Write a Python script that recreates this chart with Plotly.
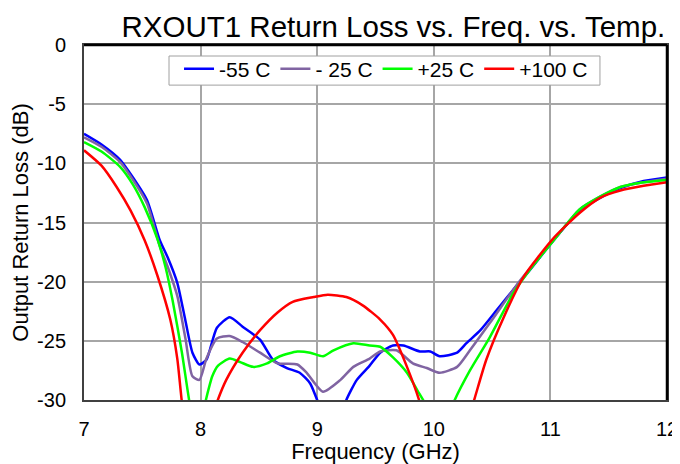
import plotly.graph_objects as go

f_m55 = [7.0, 7.15, 7.31, 7.42, 7.54, 7.65, 7.72, 7.80, 7.87, 7.93, 7.99, 8.05, 8.14, 8.25, 8.36, 8.51, 8.62, 8.74, 8.85, 8.94, 9.0, 9.07, 9.15, 9.22, 9.25, 9.34, 9.45, 9.54, 9.65, 9.74, 9.88, 9.97, 10.05, 10.2, 10.28, 10.40, 10.54, 10.68, 10.80, 11.02, 11.25, 11.43, 11.6, 11.8, 12.0]
rl_m55 = [-7.5, -8.4, -9.7, -11.2, -13.1, -16.5, -18.0, -20.1, -23.3, -26.0, -27.0, -26.6, -23.9, -23.0, -23.8, -24.9, -26.6, -27.3, -27.7, -28.6, -30.0, -31.5, -32.0, -31.0, -30.0, -28.3, -27.1, -26.0, -25.4, -25.4, -25.9, -25.9, -26.3, -26.0, -25.2, -24.1, -22.4, -20.7, -19.3, -16.6, -14.0, -12.9, -12.1, -11.5, -11.2]

f_m25 = [7.0, 7.15, 7.31, 7.42, 7.54, 7.65, 7.72, 7.80, 7.87, 7.93, 7.99, 8.05, 8.14, 8.25, 8.36, 8.51, 8.66, 8.83, 8.91, 9.05, 9.20, 9.31, 9.45, 9.54, 9.68, 9.82, 9.94, 10.05, 10.2, 10.31, 10.48, 10.74, 10.9, 11.02, 11.25, 11.43, 11.6, 11.8, 12.0]
rl_m25 = [-7.8, -8.6, -9.9, -11.4, -13.4, -17.0, -18.8, -21.2, -24.8, -28.0, -28.3, -26.5, -24.8, -24.6, -25.1, -26.0, -26.9, -27.0, -27.7, -29.3, -28.3, -27.2, -26.5, -25.9, -25.8, -26.9, -27.3, -27.7, -27.2, -25.8, -23.5, -19.9, -18.0, -16.6, -13.9, -12.8, -12.0, -11.6, -11.3]

f_p25 = [7.0, 7.15, 7.31, 7.42, 7.52, 7.63, 7.70, 7.76, 7.84, 7.91, 7.97, 8.04, 8.10, 8.15, 8.25, 8.34, 8.45, 8.57, 8.68, 8.83, 8.94, 9.05, 9.14, 9.31, 9.45, 9.54, 9.65, 9.77, 9.86, 9.92, 10.0, 10.1, 10.17, 10.31, 10.48, 10.68, 10.8, 11.02, 11.25, 11.43, 11.6, 11.8, 12.0]
rl_p25 = [-8.2, -9.0, -10.3, -11.8, -13.7, -16.4, -18.8, -21.6, -26.0, -30.5, -33.0, -30.2, -28.0, -27.1, -26.5, -26.8, -27.2, -26.9, -26.3, -25.9, -26.0, -26.3, -25.8, -25.2, -25.4, -25.5, -26.4, -27.7, -29.2, -30.2, -32.0, -32.0, -30.2, -27.5, -24.7, -21.0, -19.3, -16.6, -13.9, -12.8, -12.0, -11.6, -11.4]

f_p100 = [7.0, 7.15, 7.28, 7.40, 7.52, 7.63, 7.74, 7.80, 7.84, 7.90, 8.05, 8.14, 8.22, 8.36, 8.51, 8.66, 8.79, 8.97, 9.09, 9.25, 9.39, 9.54, 9.65, 9.77, 9.88, 9.95, 10.25, 10.34, 10.45, 10.6, 10.77, 11.02, 11.25, 11.43, 11.6, 11.8, 12.0]
rl_p100 = [-8.9, -10.2, -12.0, -14.0, -16.5, -19.5, -23.2, -26.5, -30.2, -34.0, -33.0, -30.2, -28.3, -26.0, -24.1, -22.6, -21.7, -21.3, -21.1, -21.3, -22.0, -23.2, -24.5, -27.2, -30.2, -33.0, -33.0, -30.2, -26.6, -23.0, -19.6, -16.4, -14.2, -12.9, -12.3, -11.9, -11.6]

series_names = ["-55 C", "- 25 C", "+25 C", "+100 C"]
series_colors = ["#0000FF", "#8064A2", "#00FF00", "#FF0000"]
xs = [f_m55, f_m25, f_p25, f_p100]
ys = [rl_m55, rl_m25, rl_p25, rl_p100]

x_ticks = [7, 8, 9, 10, 11, 12]
y_ticks = [0, -5, -10, -15, -20, -25, -30]

fig = go.Figure()
for name, color, x, y in zip(series_names, series_colors, xs, ys):
    fig.add_trace(go.Scatter(x=x, y=y, mode="lines", name=name,
                             line=dict(color=color, width=2.5, shape="spline", smoothing=0.6)))

font_family = "Liberation Sans, Arial, sans-serif"
# page body has an 8px default margin; figure sized to fill the 680x464 window
fig.update_layout(
    width=672, height=456,
    margin=dict(l=76, r=13, t=37, b=64, autoexpand=False),
    paper_bgcolor="white", plot_bgcolor="white",
    font=dict(family=font_family, size=20, color="black"),
    title=dict(text="RXOUT1 Return Loss vs. Freq. vs. Temp.", xref="paper", x=0.997, xanchor="right",
               yref="container", y=0.958, yanchor="middle", font=dict(size=29.5, color="black")),
    legend=dict(orientation="h", x=0.163, y=0.99, xanchor="left", yanchor="top",
                bgcolor="rgba(0,0,0,0)", borderwidth=0,
                font=dict(size=21), itemwidth=30, tracegroupgap=0),
    showlegend=True,
)
fig.update_xaxes(range=[7, 12], tickvals=x_ticks, ticktext=[str(v) for v in x_ticks],
                 showgrid=True, gridcolor="#a6a6a6", gridwidth=1.5,
                 showline=True, linecolor="#404040", linewidth=2, mirror=True,
                 ticks="", ticklabelstandoff=10, tickfont=dict(size=20),
                 title=dict(text="Frequency (GHz)", font=dict(size=22), standoff=4),
                 zeroline=False, automargin=False)
fig.update_yaxes(range=[-30, 0], tickvals=y_ticks, ticktext=[str(v) for v in y_ticks],
                 showgrid=True, gridcolor="#a6a6a6", gridwidth=1.5,
                 showline=True, linecolor="#404040", linewidth=2, mirror=True,
                 ticks="", ticklabelstandoff=12, tickfont=dict(size=20),
                 title=dict(text="Output Return Loss (dB)", font=dict(size=22), standoff=6),
                 zeroline=False, automargin=False)
fig.add_shape(type="line", xref="paper", yref="paper", x0=0, x1=1, y0=1, y1=1,
              line=dict(color="black", width=2.5))
fig.add_shape(type="line", xref="paper", yref="paper", x0=1, x1=1, y0=0, y1=1,
              line=dict(color="black", width=2.5))
# legend frame
fig.add_shape(type="rect", xref="paper", yref="paper", x0=0.1458, x1=0.885, y0=0.887, y1=0.969,
              line=dict(color="#a0a0a0", width=1), fillcolor="white", layer="above")

fig.write_html("out.html")
